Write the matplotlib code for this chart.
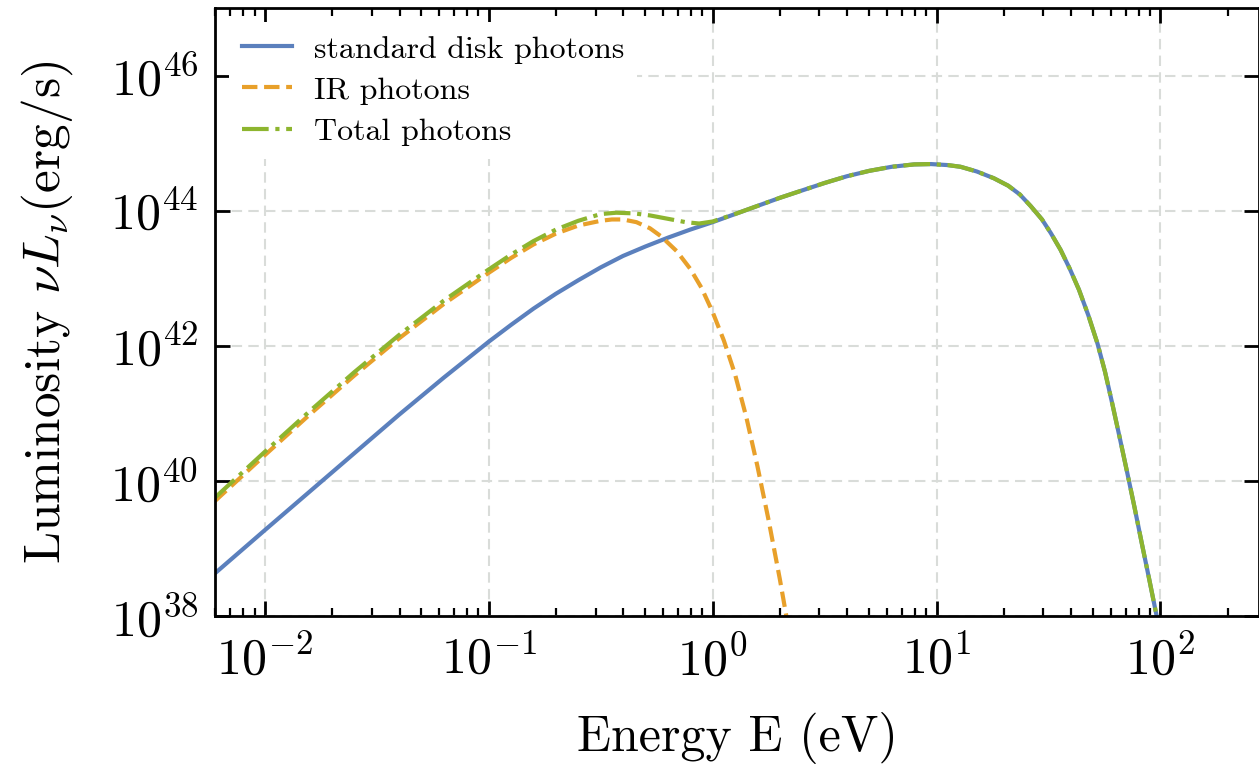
import matplotlib
matplotlib.use("Agg")
import matplotlib.pyplot as plt
from matplotlib.ticker import NullLocator, LogLocator
import numpy as np

# values, stored as log10(E / eV) and log10(nu L_nu / erg s^-1)
disk_logE = [-2.223, -2.0, -1.8, -1.6, -1.4, -1.2, -1.0, -0.9, -0.8, -0.7,
             -0.6, -0.5, -0.4, -0.3, -0.2, -0.1, 0.0, 0.1, 0.2, 0.3,
             0.4, 0.5, 0.6, 0.7, 0.8, 0.9, 0.975, 1.05, 1.107, 1.18,
             1.256, 1.32, 1.372, 1.42, 1.471, 1.51, 1.554, 1.595, 1.636, 1.678,
             1.719, 1.752, 1.785, 1.818, 1.851, 1.884, 1.917, 1.95, 1.983, 2.0]
disk_logL = [38.63, 39.27, 39.84, 40.41, 40.98, 41.53, 42.06, 42.31, 42.55, 42.77,
             42.97, 43.16, 43.33, 43.47, 43.60, 43.72, 43.83, 43.95, 44.07, 44.19,
             44.30, 44.41, 44.51, 44.59, 44.65, 44.685, 44.69, 44.675, 44.65, 44.58,
             44.48, 44.37, 44.24, 44.07, 43.87, 43.67, 43.42, 43.14, 42.83, 42.45,
             42.03, 41.62, 41.14, 40.64, 40.13, 39.61, 39.07, 38.54, 38.0, 37.72]

ir_logE = [-2.223, -2.0, -1.8, -1.6, -1.4, -1.2, -1.0, -0.9, -0.8, -0.7,
           -0.6, -0.5, -0.45, -0.4, -0.34, -0.28, -0.23, -0.16, -0.1, -0.05,
           0.0, 0.05, 0.1, 0.15, 0.2, 0.25, 0.3, 0.325, 0.35]
ir_logL = [39.70, 40.38, 40.98, 41.56, 42.11, 42.62, 43.08, 43.30, 43.50, 43.66,
           43.78, 43.85, 43.87, 43.87, 43.83, 43.74, 43.62, 43.40, 43.14, 42.86,
           42.50, 42.08, 41.58, 40.95, 40.22, 39.42, 38.55, 38.08, 37.6]

tot_logE = [-2.223, -2.0, -1.8, -1.6, -1.4, -1.2, -1.0, -0.9, -0.8, -0.7,
            -0.6, -0.5, -0.43, -0.35, -0.28, -0.2, -0.12, -0.06, 0.0, 0.1,
            0.2, 0.3, 0.4, 0.5, 0.6, 0.7, 0.8, 0.9, 0.975, 1.05,
            1.107, 1.18, 1.256, 1.32, 1.372, 1.42, 1.471, 1.51, 1.554, 1.595,
            1.636, 1.678, 1.719, 1.752, 1.785, 1.818, 1.851, 1.884, 1.917, 1.95,
            1.983, 2.0]
tot_logL = [39.75, 40.43, 41.03, 41.61, 42.16, 42.67, 43.13, 43.35, 43.55, 43.72,
            43.85, 43.95, 43.97, 43.96, 43.93, 43.88, 43.83, 43.81, 43.84, 43.95,
            44.07, 44.19, 44.30, 44.41, 44.51, 44.59, 44.65, 44.685, 44.69, 44.675,
            44.65, 44.58, 44.48, 44.37, 44.24, 44.07, 43.87, 43.67, 43.42, 43.14,
            42.83, 42.45, 42.03, 41.62, 41.14, 40.64, 40.13, 39.61, 39.07, 38.54,
            38.0, 37.72]

labels = ['standard disk photons', 'IR photons', 'Total photons']
colors = ['#5b80bd', '#e8a02a', '#8db52f']

plt.rcParams.update({
    'font.family': 'serif',
    'font.serif': ['cmr10'],
    'mathtext.fontset': 'cm',
    'axes.formatter.use_mathtext': True,
    'axes.unicode_minus': False,
})

fig = plt.figure(figsize=(12.59, 7.64), dpi=100)
ax = fig.add_axes([0.1708, 0.1937, 0.8292, 0.7958])

ax.plot(10 ** np.array(disk_logE), 10 ** np.array(disk_logL), '-', color=colors[0], lw=3, label=labels[0])
ax.plot(10 ** np.array(ir_logE), 10 ** np.array(ir_logL), '--', color=colors[1], lw=3, label=labels[1])
ax.plot(10 ** np.array(tot_logE), 10 ** np.array(tot_logL), '-.', color=colors[2], lw=3, label=labels[2])

ax.set_xscale('log')
ax.set_yscale('log')
ax.set_xlim(10 ** -2.222, 10 ** 2.44)
ax.set_ylim(1e38, 1e47)
ax.set_yticks([1e38, 1e40, 1e42, 1e44, 1e46])
ax.yaxis.set_minor_locator(NullLocator())
ax.xaxis.set_major_locator(LogLocator(base=10, numticks=10))
ax.xaxis.set_minor_locator(LogLocator(base=10, subs=np.arange(2, 10), numticks=20))

ax.grid(True, which='major', color='#d9dcd9', ls=(0, (5, 3)), lw=1.5)
ax.set_axisbelow(True)

ax.tick_params(which='both', direction='in', top=True, right=True, labelsize=36, width=2)
ax.tick_params(which='major', length=11)
ax.tick_params(axis='x', which='major', pad=14)
ax.tick_params(axis='y', which='major', pad=12)
ax.tick_params(which='minor', length=5.5, width=1.6)
for s in ax.spines.values():
    s.set_linewidth(2)

ax.set_xlabel('Energy E (eV)', fontsize=36)
ax.set_ylabel(r'Luminosity $\nu L_\nu$(erg/s)', fontsize=37)
ax.xaxis.set_label_coords(0.5, -0.158)
ax.yaxis.set_label_coords(-0.134, 0.5)

leg = ax.legend(loc='upper left', fontsize=23, frameon=True, framealpha=1, edgecolor='none',
                handlelength=1.55, handletextpad=0.7, labelspacing=0.4, borderaxespad=0.45)
leg.get_frame().set_linewidth(0)

fig.savefig('out.png', dpi=100)
